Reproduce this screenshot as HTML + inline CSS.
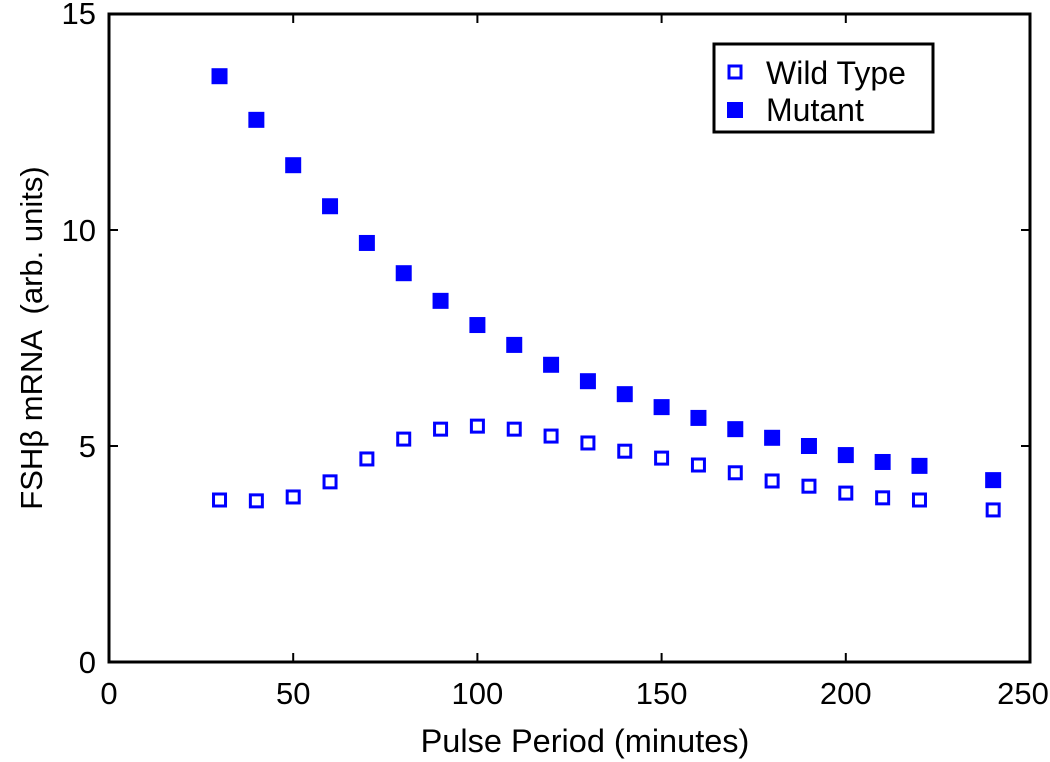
<!DOCTYPE html>
<html><head><meta charset="utf-8"><style>
body{margin:0;background:#fff}
svg{display:block;font-family:"Liberation Sans",sans-serif}
</style></head><body>
<svg id="chart" width="1050" height="762" viewBox="0 0 1050 762">
<g id="marks"></g>
<rect x="109" y="14" width="921" height="648" fill="none" stroke="#000" stroke-width="3"/>
<g id="ticks"></g>
<text x="585" y="752" font-size="32.5" text-anchor="middle">Pulse Period (minutes)</text>
<text transform="translate(42,338) rotate(-90)" font-size="31" text-anchor="middle" xml:space="preserve">FSHβ mRNA  (arb. units)</text>
<g>
<rect x="714" y="44" width="219" height="88" fill="#fff" stroke="#000" stroke-width="3"/>
<rect x="729" y="66" width="12" height="12" fill="#fff" stroke="#0000ff" stroke-width="3"/>
<text x="766" y="84" font-size="32">Wild Type</text>
<rect x="727" y="102" width="16" height="16" fill="#0000ff"/>
<text x="766" y="121" font-size="32">Mutant</text>
</g>
</svg>
<script>
const periods=[30,40,50,60,70,80,90,100,110,120,130,140,150,160,170,180,190,200,210,220,240];
const mutant=[13.56,12.55,11.5,10.55,9.7,9.0,8.36,7.8,7.34,6.88,6.5,6.2,5.9,5.65,5.39,5.19,5.0,4.79,4.63,4.54,4.21];
const wildType=[3.75,3.73,3.82,4.17,4.7,5.16,5.39,5.46,5.39,5.23,5.07,4.88,4.72,4.56,4.38,4.19,4.07,3.91,3.8,3.75,3.52];
const xTicks=[0,50,100,150,200,250];
const yTicks=[0,5,10,15];
const NS="http://www.w3.org/2000/svg";
const X0=109,X1=1030,Y0=662,Y1=14;
function xs(v){return X0+(v-0)/(250-0)*(X1-X0);}
function ys(v){return Y0-(v-0)/(15-0)*(Y0-Y1);}
function mk(tag,attrs,parent){const e=document.createElementNS(NS,tag);for(const k in attrs)e.setAttribute(k,attrs[k]);parent.appendChild(e);return e;}
const marks=document.getElementById('marks');
periods.forEach((p,i)=>{
  const r=mk('rect',{x:xs(p)-6,y:ys(wildType[i])-6,width:12,height:12,fill:'#fff',stroke:'#0000ff','stroke-width':3},marks);
  
  
  const m=mk('rect',{x:xs(p)-8,y:ys(mutant[i])-8,width:16,height:16,fill:'#0000ff'},marks);
  
  
});
const tk=document.getElementById('ticks');
xTicks.forEach(v=>{
  const x=xs(v);
  const l1=mk('line',{x1:x,y1:Y0,x2:x,y2:Y0-9,stroke:'#000','stroke-width':2},tk);
  
  
  const l2=mk('line',{x1:x,y1:Y1,x2:x,y2:Y1+9,stroke:'#000','stroke-width':2},tk);
  
  
  const t=mk('text',{x:Math.min(x,1023),y:704,'font-size':31,'text-anchor':'middle'},tk);
  t.textContent=v;
  
  
});
yTicks.forEach(v=>{
  const y=ys(v);
  const l1=mk('line',{x1:X0,y1:y,x2:X0+9,y2:y,stroke:'#000','stroke-width':2},tk);
  
  
  const l2=mk('line',{x1:X1,y1:y,x2:X1-9,y2:y,stroke:'#000','stroke-width':2},tk);
  
  
  const t=mk('text',{x:96,y:y+(v===15?10:11),'font-size':31,'text-anchor':'end'},tk);
  t.textContent=v;
  
  
});
</script>
</body></html>
